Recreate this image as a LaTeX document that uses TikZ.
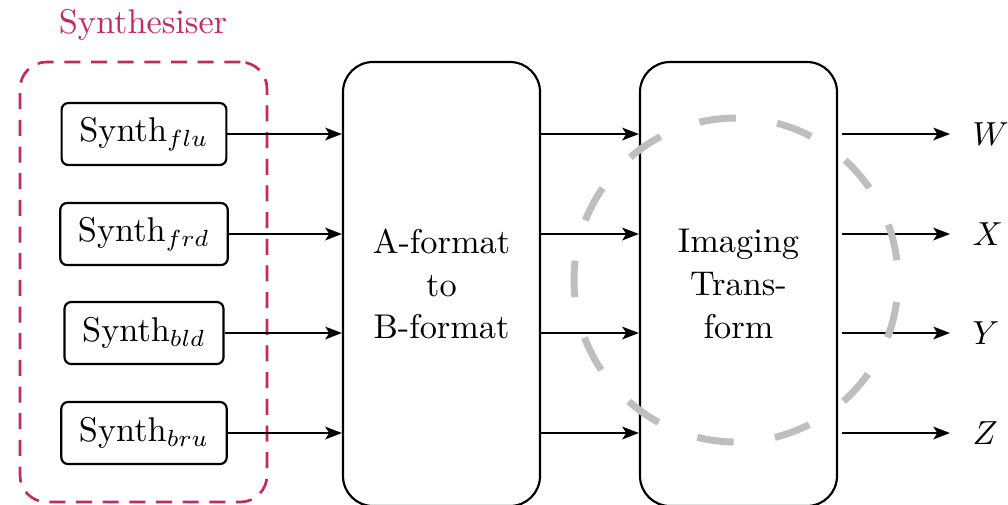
\documentclass[tikz,border=0pt]{standalone}
\usetikzlibrary{arrows.meta}
\definecolor{synthred}{RGB}{200,40,95}
\definecolor{ringgrey}{RGB}{190,190,190}
\begin{document}
\begin{tikzpicture}[x=0.3pt,y=-0.3pt,
  every node/.style={font=\fontsize{10.3pt}{12.8pt}\selectfont},
  synthbox/.style={draw, line width=0.65pt, rounded corners=2pt, inner xsep=5.3pt,
    minimum height=18.6pt},
  stagebox/.style={draw, line width=0.65pt, rounded corners=9pt, minimum width=59.1pt,
    minimum height=133.2pt, align=center},
  groupbox/.style={draw=synthred, line width=0.8pt, dash pattern=on 4.8pt off 3.2pt,
    rounded corners=8pt, minimum width=74.1pt, minimum height=132pt},
  outlabel/.style={anchor=west, inner xsep=6.6pt},
  flow/.style={-{Stealth[length=5pt,width=3.8pt,inset=1.2pt]}, line width=0.65pt}]
\useasboundingbox (0,0) rectangle (1008,504);
\clip (0,0) rectangle (1008,504);

% synthesiser group
\node[groupbox] (grp) at (143.5,282) {};
\node[text=synthred] (grplabel) at (143,25) {Synthesiser};

\node[synthbox] (s1) at (144,134) {Synth$_{flu}$};
\node[synthbox] (s2) at (144,234) {Synth$_{frd}$};
\node[synthbox] (s3) at (144,333) {Synth$_{bld}$};
\node[synthbox] (s4) at (144,433) {Synth$_{bru}$};

% processing stages
\node[stagebox] (ab) at (441.5,284) {A-format\\to\\B-format};
\node[stagebox] (it) at (738.5,284) {Imaging\\Trans-\\form};

% outputs
\node[outlabel] (w) at (950,134) {$W$};
\node[outlabel] (x) at (950,234) {$X$};
\node[outlabel] (y) at (950,333) {$Y$};
\node[outlabel] (z) at (950,433) {$Z$};

% connections
\foreach \s in {s1,s2,s3,s4}{
  \draw[flow] (\s.east) -- (\s.east -| ab.west);
  \draw[flow] (ab.east |- \s.east) -- (it.west |- \s.east);
}
\foreach \o in {w,x,y,z}{
  \draw[flow, shorten <=1.2pt] (it.east |- \o.west) -- (\o.west);
}

% highlight ring
\draw[ringgrey, line width=2.1pt, dash pattern=on 11pt off 12.49pt, dash phase=16.9pt]
  (736,280) circle[radius=162];
\end{tikzpicture}
\end{document}
